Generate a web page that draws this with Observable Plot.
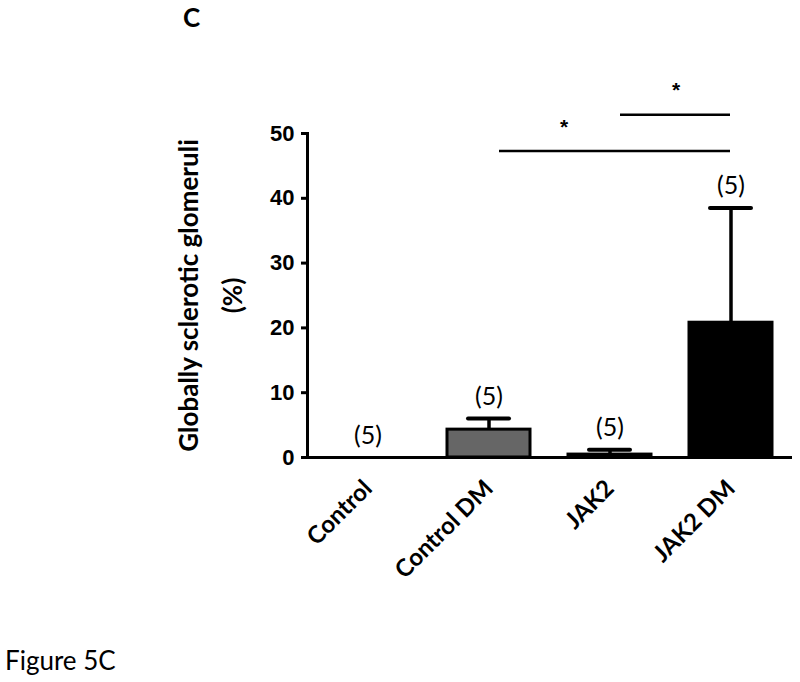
<!DOCTYPE html>
<html>
<head>
<meta charset="utf-8">
<script src="https://cdn.jsdelivr.net/npm/d3@7"></script>
<script src="https://cdn.jsdelivr.net/npm/@observablehq/plot@0.6"></script>
<style>
  html, body { margin: 0; padding: 0; background: #fff; }
  #wrap { position: relative; width: 800px; height: 682px; }
  #wrap svg { position: absolute; left: 0; top: 0; }
  .panel { position: absolute; left: 183px; top: 4px; font: bold 26px Lato, sans-serif; line-height: 1; color: #000; }
  .caption { position: absolute; left: 5px; top: 647px; font: 26px Lato, sans-serif; line-height: 1; color: #000; }
</style>
</head>
<body>
<div id="wrap">
  <div class="panel">C</div>
  <div class="caption">Figure 5C</div>
</div>
<script>
// ---- data ----
const groups = ["Control", "Control DM", "JAK2", "JAK2 DM"];
const means  = [0, 4.3, 0.45, 20.8];
const sems   = [0, 1.7, 0.75, 17.7];
const ns     = [5, 5, 5, 5];
const fills  = ["#ffffff", "#666666", "#ffffff", "#000000"];
const yTicks = [0, 10, 20, 30, 40, 50];
const yLabel = "Globally sclerotic glomeruli\n(%)";

const bracketFrom  = ["Control DM", "JAK2"];
const bracketTo    = ["JAK2 DM", "JAK2 DM"];
const bracketY     = [47.3, 52.9];
const bracketLabel = ["*", "*"];
const starDx       = [75, 66];   // style: horizontal offset of each star

const rows = groups.map((g, i) => ({group: g, mean: means[i], sem: sems[i], n: ns[i], fill: fills[i]}));
const errRows = rows.filter(d => d.sem > 0);

const bracketMarks = bracketFrom.flatMap((f, i) => [
  Plot.ruleY([{from: f, to: bracketTo[i], y: bracketY[i]}], {
    x1: "from", x2: "to", y: "y", stroke: "#000", strokeWidth: 2.6, insetLeft: 52, insetRight: 42
  }),
  Plot.text([{x: f, y: bracketY[i], t: bracketLabel[i]}], {
    x: "x", y: "y", text: "t", dx: starDx[i], dy: -24,
    fontFamily: "Liberation Sans", fontWeight: "bold", fontSize: 21, fill: "#000"
  })
]);

const chart = Plot.plot({
  width: 800,
  height: 682,
  marginLeft: 307,
  marginRight: 8,
  marginTop: 133,
  marginBottom: 225,
  x: {domain: groups, paddingInner: 0.31, paddingOuter: 0.155, label: null},
  y: {domain: [0, 50], label: null},
  style: {background: "transparent", color: "#000"},
  marks: [
    Plot.barY(rows, {x: "group", y: "mean", fill: "fill", stroke: "#000", strokeWidth: 3}),
    Plot.ruleX(errRows, {x: "group", y1: "mean", y2: d => d.mean + d.sem, stroke: "#000", strokeWidth: 3.5}),
    Plot.tickY(errRows, {x: "group", y: d => d.mean + d.sem, stroke: "#000", strokeWidth: 4, strokeLinecap: "round", insetLeft: 21, insetRight: 21}),
    Plot.text(rows, {x: "group", y: d => d.mean + d.sem, text: d => `(${d.n})`, dy: -22,
      fontFamily: "Lato", fontSize: 25, fill: "#000"}),
    Plot.ruleY([0], {stroke: "#000", strokeWidth: 3}),
    Plot.frame({anchor: "left", stroke: "#000", strokeWidth: 3}),
    Plot.axisY({ticks: yTicks, tickSize: 6, tickPadding: 7, strokeWidth: 3, label: null,
      fontFamily: "Liberation Sans", fontWeight: "bold", fontSize: 22}),
    Plot.axisX({tickSize: 0, tickPadding: 27, tickRotate: -45, label: null,
      fontFamily: "Lato", fontWeight: "bold", fontSize: 24}),
    Plot.text([yLabel], {frameAnchor: "left", text: d => d, rotate: -90, dx: -102, lineHeight: 1.7,
      textAnchor: "middle", fontFamily: "Lato", fontWeight: "bold", fontSize: 26, fill: "#000"}),
    ...bracketMarks
  ]
});
document.getElementById("wrap").prepend(chart);
</script>
</body>
</html>
